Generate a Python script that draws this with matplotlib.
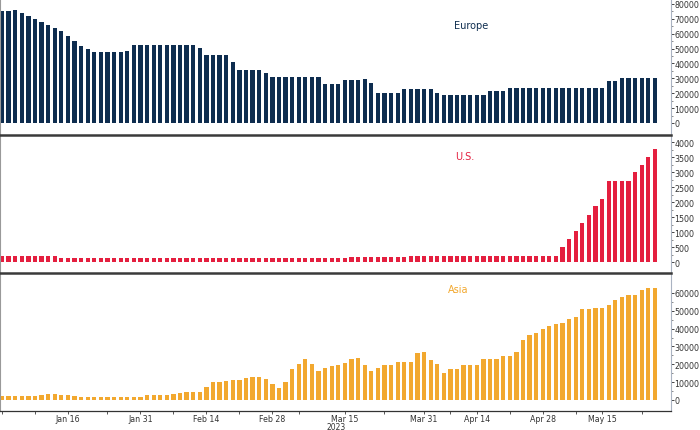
import numpy as np
import pandas as pd
import matplotlib
matplotlib.use("Agg")
import matplotlib.pyplot as plt
from matplotlib.ticker import FixedLocator

# ---- categories: UK business days ----
holidays = ["2023-01-02", "2023-04-07", "2023-04-10", "2023-05-01", "2023-05-08"]
dates = pd.bdate_range("2022-12-30", "2023-05-25", freq="C", holidays=holidays)

tick_labels = ["Jan 16", "Jan 31", "Feb 14", "Feb 28", "Mar 15", "Mar 31", "Apr 14", "Apr 28", "May 15"]
tick_dates = ["2023-01-16", "2023-01-31", "2023-02-14", "2023-02-28", "2023-03-15",
              "2023-03-31", "2023-04-14", "2023-04-28", "2023-05-15"]
minor_dates = ["2022-12-30", "2023-01-09", "2023-01-24", "2023-02-07", "2023-02-21",
               "2023-03-06", "2023-03-23", "2023-04-06", "2023-04-21", "2023-05-09", "2023-05-23"]

# ---- series ----
europe = ([75000, 75000, 76000, 73700, 72100, 69900, 67600, 65600, 63800, 61600,
           58500, 55100, 52000, 49700]
          + [47500] * 5 + [48600] + [52600] * 10 + [50400] + [45900] * 4 + [41000]
          + [35800] * 4 + [33400] + [30900] * 8 + [26000] * 3 + [28900]
          + [28900, 28900, 29600, 26900] + [20200] * 4 + [23000] * 5 + [20200]
          + [19000] * 7 + [21300] * 3 + [23300] * 15 + [28200] * 2
          + [30500, 30500, 30500, 30000, 30000, 30000])

us = ([195] * 9 + [140] * 44 + [155] * 9 + [200] * 23
      + [490, 770, 1025, 1290, 1570, 1860, 2100, 2695, 2695, 2695, 2695, 2995, 3250, 3495, 3785])

asia = ([2240] * 6 + [2600, 3370, 3370, 3000, 2600, 2240, 1500] + [1870] * 9
        + [2600, 3000, 3000, 3000, 3370, 3740, 4490, 4490, 4490, 7100,
           10100, 10100, 10500, 11000, 11400, 12200, 12700, 12700, 11600, 9000,
           6500, 10100, 17400, 20200, 23000, 20200, 16100, 18000, 19300, 19600,
           20800, 22800, 23700, 19600, 16500, 18000, 19600, 19600, 21300, 21300,
           21300, 26200, 26900, 22400, 20200, 15100, 17200, 17200, 19600, 19800,
           19800, 23000, 23000, 23000, 24500, 24500, 26700, 33700, 36500, 37600,
           39800, 41300, 42400, 43200, 45400, 46400, 50900, 51200, 51400, 51400,
           53500, 56100, 57600, 59100, 59100, 61700, 63000, 63000])

names = ["Europe", "U.S.", "Asia"]
colors = ["#0e2d4f", "#e41f3f", "#f2a82f"]
series = [europe, us, asia]

x = np.arange(len(dates))
major_idx = [dates.get_loc(pd.Timestamp(d)) for d in tick_dates]
minor_idx = [dates.get_loc(pd.Timestamp(d)) for d in minor_dates]

W, H = 700, 431
fig = plt.figure(figsize=(W / 100, H / 100), dpi=100)
fig.patch.set_facecolor("white")

# panel pixel extents (top, bottom)
panels = [(0, 136), (136, 274), (274, 412)]
ylims = [(-8070, 83360), (-367, 4244), (-6170, 71200)]
ysteps = [(10000, 80000), (500, 4000), (10000, 60000)]
label_pos = [(471, 26), (465, 157), (458, 290)]

ax_left, ax_right = 0.0, 670.7
xl = (-0.3, 101.4)

for i in range(3):
    top, bot = panels[i]
    ax = fig.add_axes([ax_left / W, 1 - bot / H, (ax_right - ax_left) / W, (bot - top) / H])
    ax.bar(x, series[i], width=0.65, color=colors[i], linewidth=0)
    ax.set_xlim(*xl)
    ax.set_ylim(*ylims[i])
    step, ymax = ysteps[i]
    ax.yaxis.tick_right()
    ax.yaxis.set_major_locator(FixedLocator(np.arange(0, ymax + 1, step)))
    ax.yaxis.set_minor_locator(FixedLocator(np.arange(step / 2, ymax + 1, step)))
    ax.tick_params(axis="y", which="major", direction="out", length=2.2, width=0.7,
                   color="#444444", labelsize=5.7, labelcolor="#333333", pad=0.6)
    ax.tick_params(axis="y", which="minor", direction="out", length=1.2, width=0.6,
                   color="#777777")
    ax.yaxis.set_major_formatter(plt.FuncFormatter(lambda v, p: f"{int(v)}"))
    ax.spines["left"].set_color("#999999")
    ax.spines["left"].set_linewidth(0.8)
    ax.spines["right"].set_color("#aab3c2")
    ax.spines["right"].set_linewidth(0.8)
    if i == 0:
        ax.spines["top"].set_visible(False)
    else:
        ax.spines["top"].set_color("#3a3a3a")
        ax.spines["top"].set_linewidth(1.8)
    if i < 2:
        ax.spines["bottom"].set_visible(False)
        ax.set_xticks([])
    else:
        ax.spines["bottom"].set_color("#333333")
        ax.spines["bottom"].set_linewidth(0.9)
        ax.set_xticks(major_idx)
        ax.set_xticklabels(tick_labels)
        ax.set_xticks(minor_idx, minor=True)
        ax.tick_params(axis="x", which="both", direction="out", length=2.0, width=0.7,
                       color="#555555", labelsize=5.7, labelcolor="#333333", pad=0.3)
    lx, ly = label_pos[i]
    fig.text(lx / W, 1 - ly / H, names[i], color=colors[i], fontsize=7,
             ha="center", va="center")

fig.text(336 / W, 1 - 428 / H, "2023", color="#333333", fontsize=5.5, ha="center", va="center")

fig.savefig("out.png", dpi=100, facecolor="white")
